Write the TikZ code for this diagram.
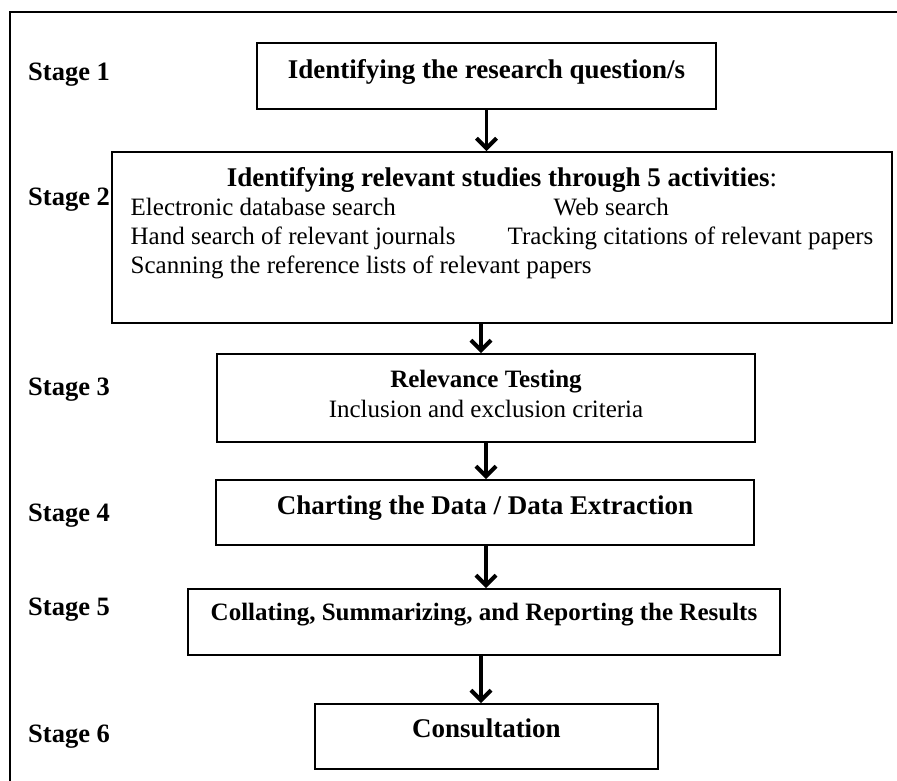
\documentclass[tikz,border=0pt]{standalone}
\usepackage{fontspec}
\setmainfont{Liberation Serif}
\usepackage{tikz}
\usetikzlibrary{arrows.meta}
\usetikzlibrary{positioning}

\tikzset{
  stagebox/.style={draw, line width=1.6pt, anchor=north, inner xsep=0pt, inner ysep=0pt,
    font=\fontsize{27}{30}\selectfont\bfseries},
  stagelabel/.style={anchor=base west, inner sep=0pt, font=\fontsize{26.5}{30}\selectfont\bfseries},
  flow/.style={line width=3.5pt, -{Straight Barb[length=10pt,width=20pt,line width=4pt]}}
}

\begin{document}
\begin{tikzpicture}[x=1pt,y=-1pt]
  \useasboundingbox (0,0) rectangle (897,780);
  \clip (0,0) rectangle (897,780);
  \draw[line width=1.6pt] (10,800) |- (920,11.7);

  \node[stagebox, minimum width=459pt, text height=36pt, text depth=30pt] at (486.5,42) (rq){Identifying the research question/s};
  \node[stagebox, minimum width=780pt, text height=35pt, text depth=136pt, font=\fontsize{25}{29}\selectfont] at (502,151) (id){%
    \begin{tabular}[t]{@{}l@{}}
      \multicolumn{1}{c}{\fontsize{27}{29}\selectfont\bfseries Identifying relevant studies through 5 activities\mdseries:}\\
      \makebox[423pt][l]{Electronic database search}Web search\\
      \makebox[377pt][l]{Hand search of relevant journals}Tracking citations of relevant papers\\
      Scanning the reference lists of relevant papers
    \end{tabular}};
  \node[stagebox, minimum width=538pt, text height=34pt, text depth=54pt, font=\fontsize{25}{30}\selectfont] at (486,353) (rt){%
    \begin{tabular}[t]{@{}c@{}}
      \bfseries Relevance Testing\\
      Inclusion and exclusion criteria
    \end{tabular}};
  \node[stagebox, minimum width=538pt, text height=35pt, text depth=30pt] at (485,479) (cd){Charting the Data / Data Extraction};
  \node[stagebox, minimum width=592pt, text height=32pt, text depth=34pt, font=\fontsize{25}{30}\selectfont\bfseries] at (484,588) (cs){Collating, Summarizing, and Reporting the Results};
  \node[stagebox, minimum width=343pt, text height=34pt, text depth=31pt] at (486.5,703) (co){Consultation};

  \node[stagelabel] at (28,80) (s1){Stage 1};
  \node[stagelabel] at (28,205) (s2){Stage 2};
  \node[stagelabel] at (28,395) (s3){Stage 3};
  \node[stagelabel] at (28,521) (s4){Stage 4};
  \node[stagelabel] at (28,615) (s5){Stage 5};
  \node[stagelabel] at (28,742) (s6){Stage 6};

  \draw[flow] (rq.south) -- (rq.south |- id.north);
  \draw[flow] ([xshift=-21pt]id.south) -- ([xshift=-21pt]id.south |- rt.north);
  \draw[flow] (rt.south) -- (rt.south |- cd.north);
  \draw[flow] ([xshift=1pt]cd.south) -- ([xshift=1pt]cd.south |- cs.north);
  \draw[flow] ([xshift=-3pt]cs.south) -- ([xshift=-3pt]cs.south |- co.north);
\end{tikzpicture}
\end{document}
